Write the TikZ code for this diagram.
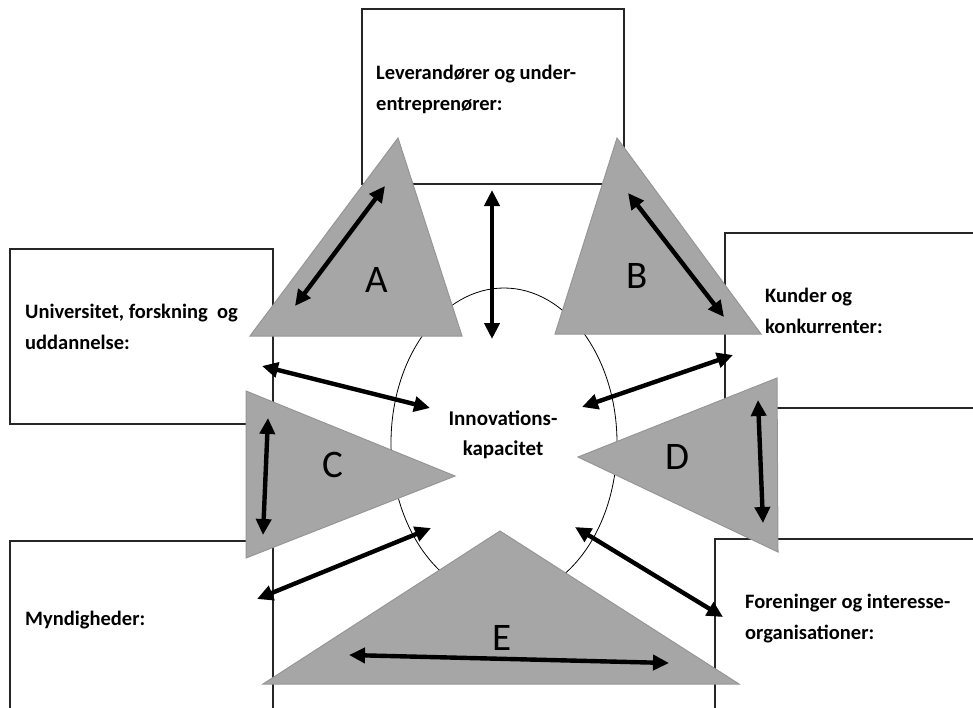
\documentclass[tikz,border=0pt]{standalone}
\usepackage{fontspec}
\setmainfont{Carlito}
\usetikzlibrary{arrows.meta}
\definecolor{trigray}{HTML}{A6A6A6}
\definecolor{triedge}{HTML}{969696}

\begin{document}
\begin{tikzpicture}[x=1pt,y=-1pt]
    \tikzstyle{box} = [draw=black!85, line width=1.3pt]
    \tikzstyle{tri} = [fill=trigray, draw=triedge, line width=1pt]
    \tikzstyle{boxtext} = [font=\fontsize{20.5}{31}\selectfont\bfseries, align=left, anchor=base west, inner sep=0pt]
    \tikzstyle{tritext} = [font=\fontsize{39}{39}\selectfont, inner sep=0pt]
    \tikzstyle{arrow} = [line width=4.4pt, {Triangle[length=16pt,width=15pt]}-{Triangle[length=16pt,width=15pt]}]

    \clip (0,0) rectangle (973,707);

    % boxes round the centre
    \draw [box] (362,9) rectangle (624,184);
    \draw [box] (10,249) rectangle (273,424);
    \draw [box] (725,233) rectangle (990,408);
    \draw [box] (10,541) rectangle (273,720);
    \draw [box] (715,539) rectangle (990,720);

    \node [boxtext] (lev) at (376,110) {Leverandører og under-\\entreprenører:};
    \node [boxtext] (uni) at (25,349) {Universitet, forskning \ og\\uddannelse:};
    \node [boxtext] (kun) at (765,333) {Kunder og\\konkurrenter:};
    \node [boxtext] (myn) at (25,625) {Myndigheder:};
    \node [boxtext] (for) at (745,639) {Foreninger og interesse-\\organisationer:};

    % centre
    \draw [line width=0.8pt] (504,443) ellipse (113 and 155);
    \node [font=\fontsize{21}{30}\selectfont\bfseries, align=center, anchor=base, inner sep=0pt] (inno) at (503,455) {Innovations-\\kapacitet};

    % triangles
    \filldraw [tri] (250,336) -- (462,336) -- (398,138) -- cycle;
    \filldraw [tri] (555,334) -- (761,334) -- (617,138) -- cycle;
    \filldraw [tri] (246,391) -- (455,476) -- (246,558) -- cycle;
    \filldraw [tri] (777,378) -- (578,457) -- (778,552) -- cycle;
    \filldraw [tri] (263,684) -- (500,531) -- (739,684) -- cycle;

    \node [tritext] (A) at (377,280) {A};
    \node [tritext] (B) at (637,276) {B};
    \node [tritext] (C) at (333,465) {C};
    \node [tritext] (D) at (677,457) {D};
    \node [tritext] (E) at (502,638) {E};

    % arrow ends
    \coordinate (a1) at (295,306);  \coordinate (a2) at (385,186);
    \coordinate (v1) at (492,190);  \coordinate (v2) at (492,339);
    \coordinate (b1) at (628,193);  \coordinate (b2) at (724,317);
    \coordinate (u1) at (262,366);  \coordinate (u2) at (430,408);
    \coordinate (k1) at (582,407);  \coordinate (k2) at (733,355);
    \coordinate (c1) at (268,418);  \coordinate (c2) at (263,535);
    \coordinate (d1) at (758,400);  \coordinate (d2) at (763,523);
    \coordinate (m1) at (257,599);  \coordinate (m2) at (431,528);
    \coordinate (f1) at (575,527);  \coordinate (f2) at (723,617);
    \coordinate (e1) at (349,655);  \coordinate (e2) at (669,663);

    \draw [arrow] (a1) -- (a2);
    \draw [arrow] (v1) -- (v2);
    \draw [arrow] (b1) -- (b2);
    \draw [arrow] (u1) -- (u2);
    \draw [arrow] (k1) -- (k2);
    \draw [arrow] (c1) -- (c2);
    \draw [arrow] (d1) -- (d2);
    \draw [arrow] (m1) -- (m2);
    \draw [arrow] (f1) -- (f2);
    \draw [arrow] (e1) -- (e2);
\end{tikzpicture}
\end{document}
